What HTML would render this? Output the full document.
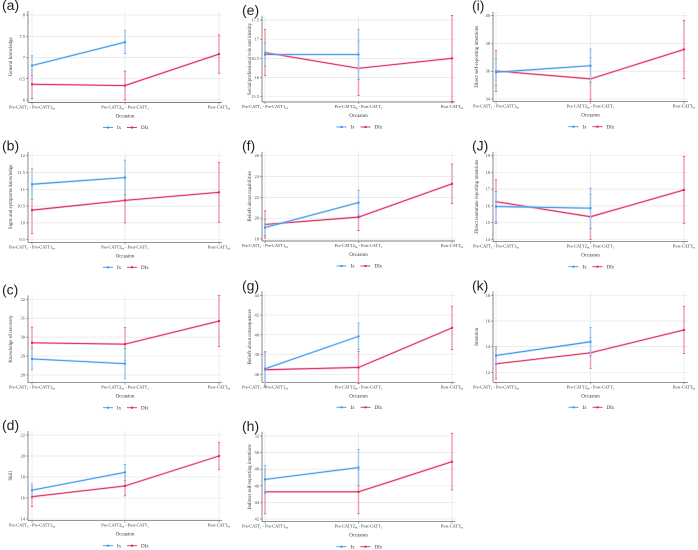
<!DOCTYPE html>
<html><head><meta charset="utf-8"><style>
html,body{margin:0;padding:0;background:#fff;}
svg{display:block;font-family:"Liberation Serif",serif;}
</style></head><body>
<svg id="chart" width="698" height="550" viewBox="0 0 698 550"></svg>
<script>
// ---- data ----
const aTicks=[8,7.5,7,6.5,6];
const aIx=[6.81,7.36]; const aIxErr=[0.23,0.27];
const aDx=[6.37,6.34,7.08]; const aDxErr=[0.34,0.34,0.45];
const bTicks=[12,11.5,11,10.5,10,9.5];
const bIx=[11.15,11.35]; const bIxErr=[0.46,0.52];
const bDx=[10.38,10.67,10.91]; const bDxErr=[0.7,0.67,0.89];
const cTicks=[32,31,30,29,28];
const cIx=[28.85,28.6]; const cIxErr=[0.55,0.8];
const cDx=[29.7,29.63,30.85]; const cDxErr=[0.83,0.87,1.35];
const dTicks=[22,20,18,16,14];
const dIx=[16.74,18.45]; const dIxErr=[0.6,0.76];
const dDx=[16.12,17.15,20]; const dDxErr=[0.95,0.95,1.27];
const eTicks=[17.5,17,16.5,16,15.5];
const eIx=[16.6,16.6]; const eIxErr=[0.3,0.65];
const eDx=[16.65,16.24,16.5]; const eDxErr=[0.6,0.71,1.12];
const fTicks=[26,24,22,20,18];
const fIx=[19.1,21.5]; const fIxErr=[0.77,1.2];
const fDx=[19.4,20.1,23.3]; const fDxErr=[1.3,1.3,1.9];
const gTicks=[44,42,40,38,36];
const gIx=[36.56,39.84]; const gIxErr=[1.75,1.36];
const gDx=[36.46,36.69,40.7]; const gDxErr=[1.75,1.6,2.2];
const hTicks=[52,50,48,46,44,42];
const hIx=[46.77,48.2]; const hIxErr=[1.65,2.2];
const hDx=[45.27,45.27,48.9]; const hDxErr=[2.65,2.65,3.4];
const iTicks=[40,38,36,34];
const iIx=[35.93,36.4]; const iIxErr=[0.95,1.2];
const iDx=[36.02,35.45,37.57]; const iDxErr=[1.47,1.52,2.1];
const jTicks=[19,18,17,16,15,14];
const jIx=[15.96,15.86]; const jIxErr=[0.9,1.2];
const jDx=[16.25,15.35,16.95]; const jDxErr=[1.3,1.35,2.0];
const kTicks=[18,16,14,12];
const kIx=[13.31,14.38]; const kIxErr=[0.72,1.1];
const kDx=[12.66,13.52,15.3]; const kDxErr=[1.17,1.2,1.85];

const panels=[
 {id:'a',lab:'(a)',title:'General knowledge',ticks:aTicks,ix:aIx,ixe:aIxErr,dx:aDx,dxe:aDxErr,col:0,t0:15,t1:100,ax:102.5},
 {id:'b',lab:'(b)',title:'Signs and symptoms knowledge',ticks:bTicks,ix:bIx,ixe:bIxErr,dx:bDx,dxe:bDxErr,col:0,t0:155.7,t1:239.7,ax:242.3},
 {id:'c',lab:'(c)',title:'Knowledge of recovery',ticks:cTicks,ix:cIx,ixe:cIxErr,dx:cDx,dxe:cDxErr,col:0,t0:299.3,t1:375,ax:382.7},
 {id:'d',lab:'(d)',title:'Skill',ticks:dTicks,ix:dIx,ixe:dIxErr,dx:dDx,dxe:dDxErr,col:0,t0:435,t1:519,ax:520.7},
 {id:'e',lab:'(e)',title:'Social/professional role and identity',ticks:eTicks,ix:eIx,ixe:eIxErr,dx:eDx,dxe:eDxErr,col:1,t0:20,t1:96.7,ax:102},
 {id:'f',lab:'(f)',title:'Beliefs about capabilities',ticks:fTicks,ix:fIx,ixe:fIxErr,dx:fDx,dxe:fDxErr,col:1,t0:155.7,t1:239,ax:241},
 {id:'g',lab:'(g)',title:'Beliefs about consequences',ticks:gTicks,ix:gIx,ixe:gIxErr,dx:gDx,dxe:gDxErr,col:1,t0:295.3,t1:374.3,ax:382.3},
 {id:'h',lab:'(h)',title:'Indirect self-reporting intentions',ticks:hTicks,ix:hIx,ixe:hIxErr,dx:hDx,dxe:hDxErr,col:1,t0:436,t1:519,ax:521.7},
 {id:'i',lab:'(i)',title:'Direct self-reporting intentions',ticks:iTicks,ix:iIx,ixe:iIxErr,dx:iDx,dxe:iDxErr,col:2,t0:15.7,t1:99,ax:101.7},
 {id:'j',lab:'(J)',title:'Direct teammate reporting intentions',ticks:jTicks,ix:jIx,ixe:jIxErr,dx:jDx,dxe:jDxErr,col:2,t0:155.7,t1:239.3,ax:241.7},
 {id:'k',lab:'(k)',title:'Intention',ticks:kTicks,ix:kIx,ixe:kIxErr,dx:kDx,dxe:kDxErr,col:2,t0:295.3,t1:372.3,ax:382.3}
];
const cols=[{axis:28,xs:[32,125,219],right:222,labX:2,titleX:12},
            {axis:262,xs:[265,358.5,452],right:455,labX:242,titleX:251},
            {axis:493,xs:[496,590.5,684],right:688,labX:472,titleX:478}];
const BLUE='#3b95ee', RED='#e0245e', LBLUE='#9ccaf5', LRED='#f09ab5';
const NS='http://www.w3.org/2000/svg';
const svg=document.getElementById('chart');
function mk(tag,attrs,parent){const e=document.createElementNS(NS,tag);for(const k in attrs)e.setAttribute(k,attrs[k]);(parent||svg).appendChild(e);return e;}

panels.forEach(p=>{
  const c=cols[p.col];
  const g=mk('g',{});
  
  
  const tv0=p.ticks[0], tv1=p.ticks[p.ticks.length-1];
  const y=v=>p.t0+(tv0-v)*(p.t1-p.t0)/(tv0-tv1);
  const top=p.t0-4;
  // panel label
  const lab=mk('text',{x:c.labX,y:top-1,'font-family':'Liberation Sans, sans-serif','font-size':14,fill:'#222'},g);
  lab.textContent=p.lab;
  
  
  // grid
  p.ticks.forEach(t=>{
    const gl=mk('line',{x1:c.axis,x2:c.right,y1:y(t),y2:y(t),stroke:'#e6e6e6','stroke-width':0.7},g);
    
    
    const tl=mk('text',{x:c.axis-3,y:y(t)+1.5,'font-size':4.5,'text-anchor':'end',fill:'#444'},g);
    tl.textContent=String(t);
    
    
    mk('line',{x1:c.axis-2,x2:c.axis,y1:y(t),y2:y(t),stroke:'#555','stroke-width':0.5},g);
  });
  c.xs.forEach(x=>{
    const vl=mk('line',{x1:x,x2:x,y1:top,y2:p.ax,stroke:'#e6e6e6','stroke-width':0.7},g);
    
    
    mk('line',{x1:x,x2:x,y1:p.ax,y2:p.ax+2,stroke:'#555','stroke-width':0.5},g);
  });
  // axes
  const ya=mk('line',{x1:c.axis,x2:c.axis,y1:top,y2:p.ax,stroke:'#555','stroke-width':0.7},g);
  
  
  const xa=mk('line',{x1:c.axis,x2:c.right,y1:p.ax,y2:p.ax,stroke:'#555','stroke-width':0.7},g);
  
  
  // x tick labels
  const xl=[['Pre-CATT','1',' - Pre-CATT1','bs'],['Pre-CATT2','bs',' - Post-CATT','1'],['Post-CATT','bs','','']];
  xl.forEach((parts,i)=>{
    const t=mk('text',{x:c.xs[i],y:p.ax+6,'font-size':4.3,'text-anchor':'middle',fill:'#333'},g);
    
    
    t.appendChild(document.createTextNode(parts[0]));
    const s1=mk('tspan',{'font-size':3,dy:1},t);s1.textContent=parts[1];
    if(parts[2]){const s2=mk('tspan',{dy:-1},t);s2.textContent=parts[2];
      const s3=mk('tspan',{'font-size':3,dy:1},t);s3.textContent=parts[3];}
  });
  const mid=(c.axis+c.right)/2;
  const oc=mk('text',{x:mid,y:p.ax+15,'font-size':5,'text-anchor':'middle',fill:'#333'},g);
  oc.textContent='Occasion';
  
  
  // y title
  const ym=(top+p.ax)/2;
  const yt=mk('text',{x:c.titleX,y:ym,'font-size':5,'text-anchor':'middle',fill:'#333',transform:`rotate(-90 ${c.titleX} ${ym})`},g);
  yt.textContent=p.title;
  
  
  // series
  function series(vals,errs,col,lcol,name){
    const sg=mk('g',{},g);
    
    
    vals.forEach((v,i)=>{
      const x=c.xs[i];
      const eb=mk('line',{x1:x,x2:x,y1:y(v+errs[i]),y2:y(v-errs[i]),stroke:lcol,'stroke-width':1.4},sg);
      
      
      mk('line',{x1:x-1.2,x2:x+1.2,y1:y(v+errs[i]),y2:y(v+errs[i]),stroke:col,'stroke-width':0.6},sg);
      mk('line',{x1:x-1.2,x2:x+1.2,y1:y(v-errs[i]),y2:y(v-errs[i]),stroke:col,'stroke-width':0.6},sg);
    });
    const pts=vals.map((v,i)=>c.xs[i]+','+y(v)).join(' ');
    mk('polyline',{points:pts,fill:'none',stroke:lcol,'stroke-width':2.2,'stroke-opacity':0.6},sg);
    const ln=mk('polyline',{points:pts,fill:'none',stroke:col,'stroke-width':0.9},sg);
    
    
    vals.forEach((v,i)=>{
      const pt=mk('rect',{x:c.xs[i]-1,y:y(v)-1,width:2,height:2,fill:col},sg);
      
      
    });
  }
  series(p.dx,p.dxe,RED,LRED,'dix');
  series(p.ix,p.ixe,BLUE,LBLUE,'ix');
  // legend
  const lg=mk('g',{},g);
  
  
  const ly=p.ax+25, lx=mid-22;
  mk('line',{x1:lx,x2:lx+10,y1:ly,y2:ly,stroke:BLUE,'stroke-width':0.9},lg);
  mk('rect',{x:lx+4,y:ly-1,width:2,height:2,fill:BLUE},lg);
  const t1=mk('text',{x:lx+14,y:ly+1.7,'font-size':5,fill:'#333'},lg);t1.textContent='Ix';
  
  
  mk('line',{x1:lx+24,x2:lx+34,y1:ly,y2:ly,stroke:RED,'stroke-width':0.9},lg);
  mk('rect',{x:lx+28,y:ly-1,width:2,height:2,fill:RED},lg);
  const t2=mk('text',{x:lx+38,y:ly+1.7,'font-size':5,fill:'#333'},lg);t2.textContent='DIx';
  
  
});
</script>
</body></html>
